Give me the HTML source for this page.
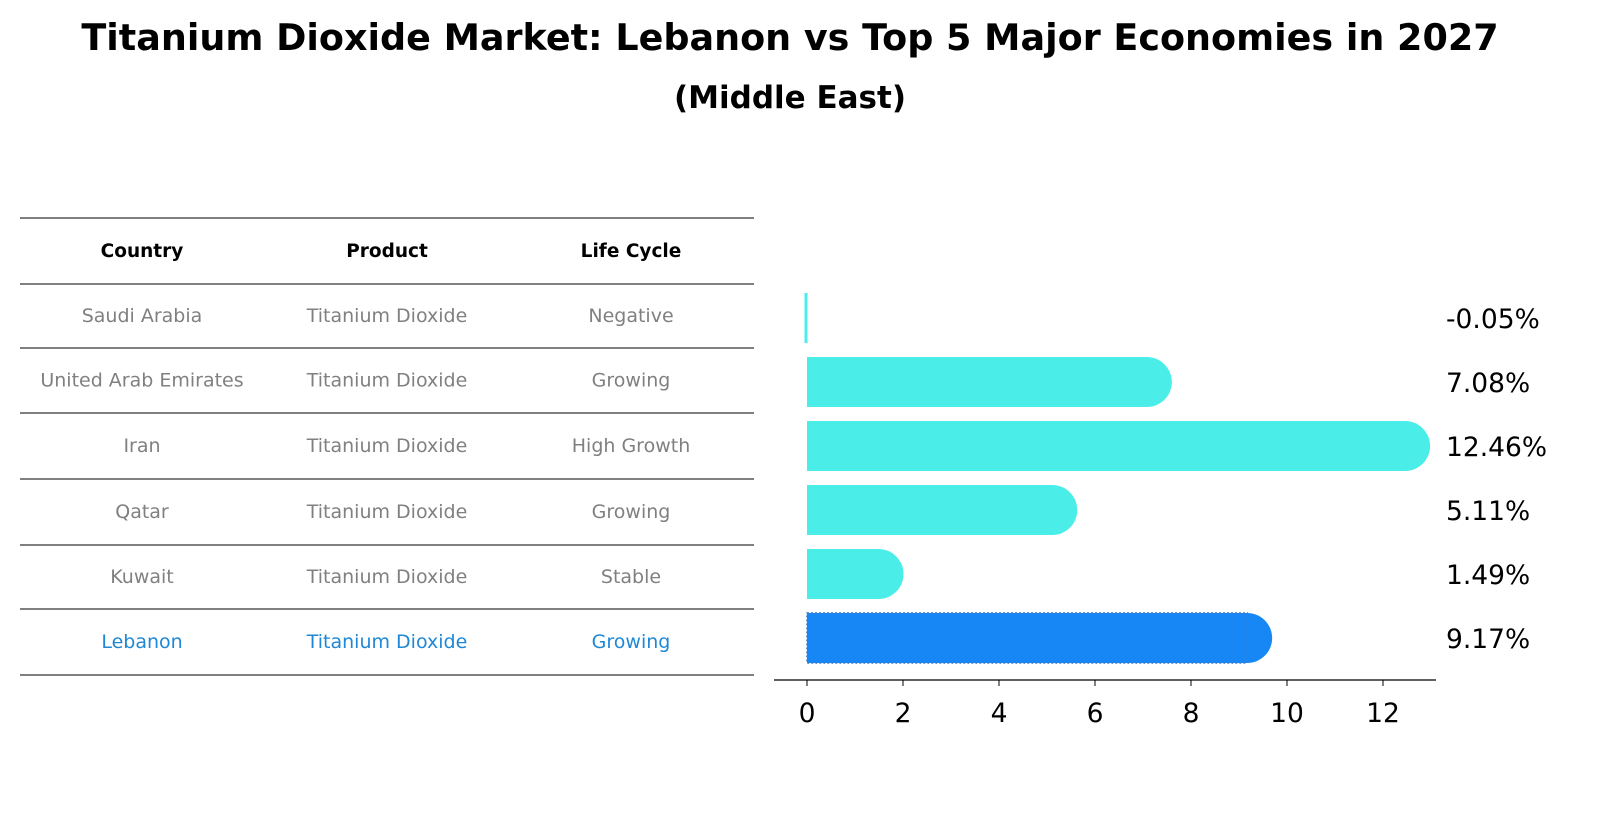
<!DOCTYPE html>
<html><head><meta charset="utf-8"><style>
body{margin:0;background:#fff;font-family:"Liberation Sans","DejaVu Sans",sans-serif;}
</style></head><body>
<svg width="1604" height="823" xmlns="http://www.w3.org/2000/svg" font-family="DejaVu Sans, Liberation Sans, sans-serif">
<text x="790" y="50" text-anchor="middle" font-size="36.5" font-weight="bold">Titanium Dioxide Market: Lebanon vs Top 5 Major Economies in 2027</text>
<text x="790" y="108" text-anchor="middle" font-size="31" font-weight="bold">(Middle East)</text>
<g id="table"></g>
<g id="bars"></g>
</svg>
<script>
const countries=["Saudi Arabia","United Arab Emirates","Iran","Qatar","Kuwait","Lebanon"];
const products=["Titanium Dioxide","Titanium Dioxide","Titanium Dioxide","Titanium Dioxide","Titanium Dioxide","Titanium Dioxide"];
const lifeCycles=["Negative","Growing","High Growth","Growing","Stable","Growing"];
const values=[-0.05,7.08,12.46,5.11,1.49,9.17];
const labels=["-0.05%","7.08%","12.46%","5.11%","1.49%","9.17%"];
const ticks=[0,2,4,6,8,10,12];
const NS="http://www.w3.org/2000/svg";
function mk(t,a,p){const e=document.createElementNS(NS,t);for(const k in a)e.setAttribute(k,a[k]);p.appendChild(e);return e;}
const tb=document.getElementById('table');
const lineYs=[218,284,348,413,479,545,609,675];
lineYs.forEach(y=>{const l=mk('line',{x1:20,x2:754,y1:y,y2:y,stroke:'#000','stroke-width':1},tb);});
const colX=[142,387,631];
["Country","Product","Life Cycle"].forEach((h,i)=>{const t=mk('text',{x:colX[i],y:257,'text-anchor':'middle','font-size':18.5,'font-weight':'bold'},tb);t.textContent=h;});
countries.forEach((c,i)=>{const y=(lineYs[i+1]+lineYs[i+2])/2+6;const col=i===5?'#1f88d6':'#808080';
[c,products[i],lifeCycles[i]].forEach((v,j)=>{const t=mk('text',{x:colX[j],y:y,'text-anchor':'middle','font-size':19,fill:col},tb);t.textContent=v;});});
const bg=document.getElementById('bars');
const x0=807,ppu=48;const X=v=>x0+v*ppu;
const rowY=i=>318+i*64;
values.forEach((v,i)=>{const cy=rowY(i);const last=i===5;const fill=last?'#1787f5':'#4bede9';
const x1=Math.min(X(0),X(v)),w=Math.max(Math.abs(X(v)-X(0)),3);
const g=mk('g',{},bg);
if(v>0){mk('rect',{x:x1,y:cy-25,width:w,height:50,fill:fill},g);mk('circle',{cx:X(v),cy:cy,r:25,fill:fill},g);}
else mk('rect',{x:X(0)-2.5,y:cy-25,width:3,height:50,fill:fill},g);
if(last)mk('rect',{x:x1,y:cy-25,width:w,height:50,fill:'none',stroke:'#3a7bd5','stroke-width':1.5,'stroke-dasharray':'2 2'},g);
const t=mk('text',{x:1446,y:cy+10,'font-size':26.5},bg);t.textContent=labels[i];});
const ax=mk('line',{x1:774,x2:1436,y1:680,y2:680,stroke:'#000','stroke-width':1.3},bg);
ticks.forEach(v=>{const l=mk('line',{x1:X(v),x2:X(v),y1:680,y2:686,stroke:'#000'},bg);
const t=mk('text',{x:X(v),y:722,'text-anchor':'middle','font-size':26.5},bg);t.textContent=v;});
</script>
</body></html>
